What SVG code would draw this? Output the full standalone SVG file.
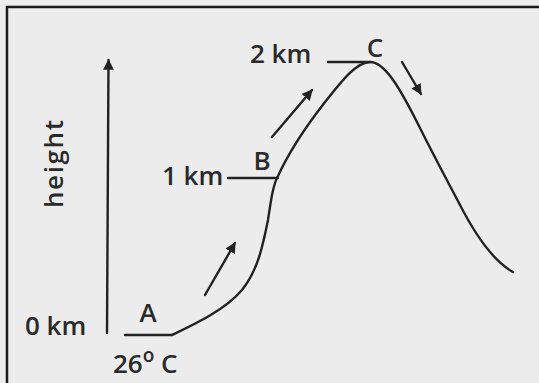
<svg xmlns="http://www.w3.org/2000/svg" width="539" height="383" viewBox="0 0 539 383">
  <style>
    .lbl { font-family: "Open Sans", "Liberation Sans", sans-serif; font-size: 26px; font-weight: 600; fill: #2a2a2a; }
    .ln { fill: none; stroke: #222; stroke-width: 2.4; stroke-linecap: round; stroke-linejoin: round; }
  </style>
  <defs>
    <marker id="ah" viewBox="0 0 10 10" refX="9" refY="5" markerWidth="4.5" markerHeight="4.5" orient="auto" markerUnits="strokeWidth">
      <path d="M0,0 L10,5 L0,10 Z" fill="#222"/>
    </marker>
  </defs>
  <rect width="539" height="383" fill="#ececec"/>
  <path d="M7,383 L7,7 L539,7" fill="none" stroke="#1a1a1a" stroke-width="2.5"/>

  <g id="axis">
    <line class="ln" x1="107" y1="333" x2="108.5" y2="60" marker-end="url(#ah)"/>
    <text class="lbl" transform="translate(63,208) rotate(-90)" textLength="88" lengthAdjust="spacing">height</text>
  </g>

  <g id="connectors">
    <path class="ln" d="M172,335 C195,324 225,310 242,290 C258,270 263,245 268,220 C271,200 273,185 278,176 C290,150 305,128 322,106 C338,86 355,62 370,62 C385,62 400,88 420,128 C435,158 448,182 460,205 C478,240 495,262 513,272"/>
    <line class="ln" x1="205" y1="295" x2="235" y2="243" marker-end="url(#ah)"/>
    <line class="ln" x1="272" y1="137" x2="312" y2="90" marker-end="url(#ah)"/>
    <line class="ln" x1="402" y1="62" x2="421" y2="94" marker-end="url(#ah)"/>
  </g>

  <g id="nodeA">
    <line class="ln" x1="125" y1="335" x2="172" y2="335"/>
    <text class="lbl" x="148" y="322" text-anchor="middle">A</text>
    <text class="lbl" x="25" y="335">0 km</text>
    <text class="lbl" x="113" y="373">26<tspan font-size="19" dy="-11">o</tspan><tspan dy="11"> C</tspan></text>
  </g>

  <g id="nodeB">
    <line class="ln" x1="228" y1="178" x2="278" y2="178"/>
    <text class="lbl" x="262" y="170" text-anchor="middle">B</text>
    <text class="lbl" x="162" y="185">1 km</text>
  </g>

  <g id="nodeC">
    <line class="ln" x1="328" y1="62" x2="370" y2="62"/>
    <text class="lbl" x="375" y="57" text-anchor="middle">C</text>
    <text class="lbl" x="250" y="63">2 km</text>
  </g>
</svg>
